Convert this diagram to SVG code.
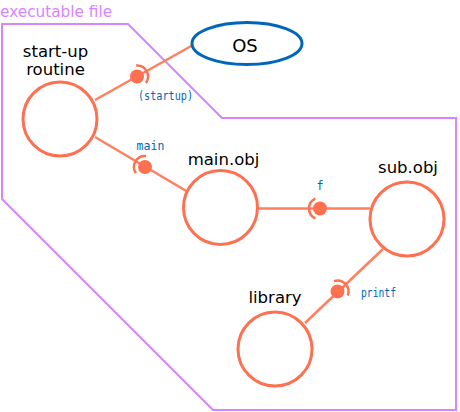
<svg xmlns="http://www.w3.org/2000/svg" width="460" height="412" viewBox="0 0 460 412">
<style>
.node{fill:#fff;stroke:#ff7050;stroke-width:3}
.os{fill:#fff;stroke:#0066bb;stroke-width:3}
.lbl{font-family:"DejaVu Sans",sans-serif;font-size:16.5px;fill:#000;text-anchor:middle}
.if{font-family:"DejaVu Sans Mono",monospace;font-size:11.5px;fill:#0066bb}
.wire{stroke:#ff7f5f;stroke-width:2.5;fill:none}
.ball{fill:#ff7050}
.sock{stroke:#ff7050;stroke-width:2.5;fill:none}
</style>
<rect width="460" height="412" fill="#fff"/>
<g id="boundary">
<polygon points="2,24 128,24 222,118 456,118 456,410 213,410 2,199" fill="none" stroke="#d884ff" stroke-width="2"/>
<text x="0" y="16.5" font-family="DejaVu Sans,sans-serif" font-size="15.3" fill="#d884ff">executable file</text>
</g>
<g id="connectors">
<line class="wire" x1="95" y1="100" x2="193" y2="45"/>
<line class="wire" x1="95" y1="137" x2="188" y2="192"/>
<line class="wire" x1="258" y1="208.5" x2="370" y2="208.5"/>
<line class="wire" x1="383" y1="249" x2="305" y2="323"/>
<circle class="ball" cx="137" cy="76.5" r="7"/>
<path class="sock" d="M136.16,65.53 A11,11 0 0 1 145.94,82.9"/>
<circle class="ball" cx="145" cy="167" r="7"/>
<path class="sock" d="M135.89,173.17 A11,11 0 0 1 146.13,156.06"/>
<circle class="ball" cx="320" cy="208.5" r="7"/>
<path class="sock" d="M315.35,218.47 A11,11 0 0 1 315.35,198.53"/>
<circle class="ball" cx="337.5" cy="291.5" r="7"/>
<path class="sock" d="M333.94,281.09 A11,11 0 0 1 347.76,295.46"/>
<text class="if" x="138" y="100" textLength="55" lengthAdjust="spacingAndGlyphs">(startup)</text>
<text class="if" x="136.5" y="150" textLength="28">main</text>
<text class="if" x="316.5" y="190">f</text>
<text class="if" x="361" y="297" textLength="35" lengthAdjust="spacingAndGlyphs">printf</text>
</g>
<g id="os">
<ellipse class="os" cx="247" cy="43.5" rx="55" ry="21"/>
<text class="lbl" x="245" y="52" style="font-size:18px">OS</text>
</g>
<g id="startup">
<circle class="node" cx="60" cy="119" r="37"/>
<text class="lbl" x="55.5" y="56.5">start-up</text>
<text class="lbl" x="55.5" y="74.5">routine</text>
</g>
<g id="mainobj">
<circle class="node" cx="220.5" cy="207.5" r="37"/>
<text class="lbl" x="223.5" y="165">main.obj</text>
</g>
<g id="subobj">
<circle class="node" cx="407" cy="219" r="37"/>
<text class="lbl" x="408" y="173">sub.obj</text>
</g>
<g id="library">
<circle class="node" cx="275" cy="349" r="37"/>
<text class="lbl" x="275" y="302.5">library</text>
</g>
</svg>
